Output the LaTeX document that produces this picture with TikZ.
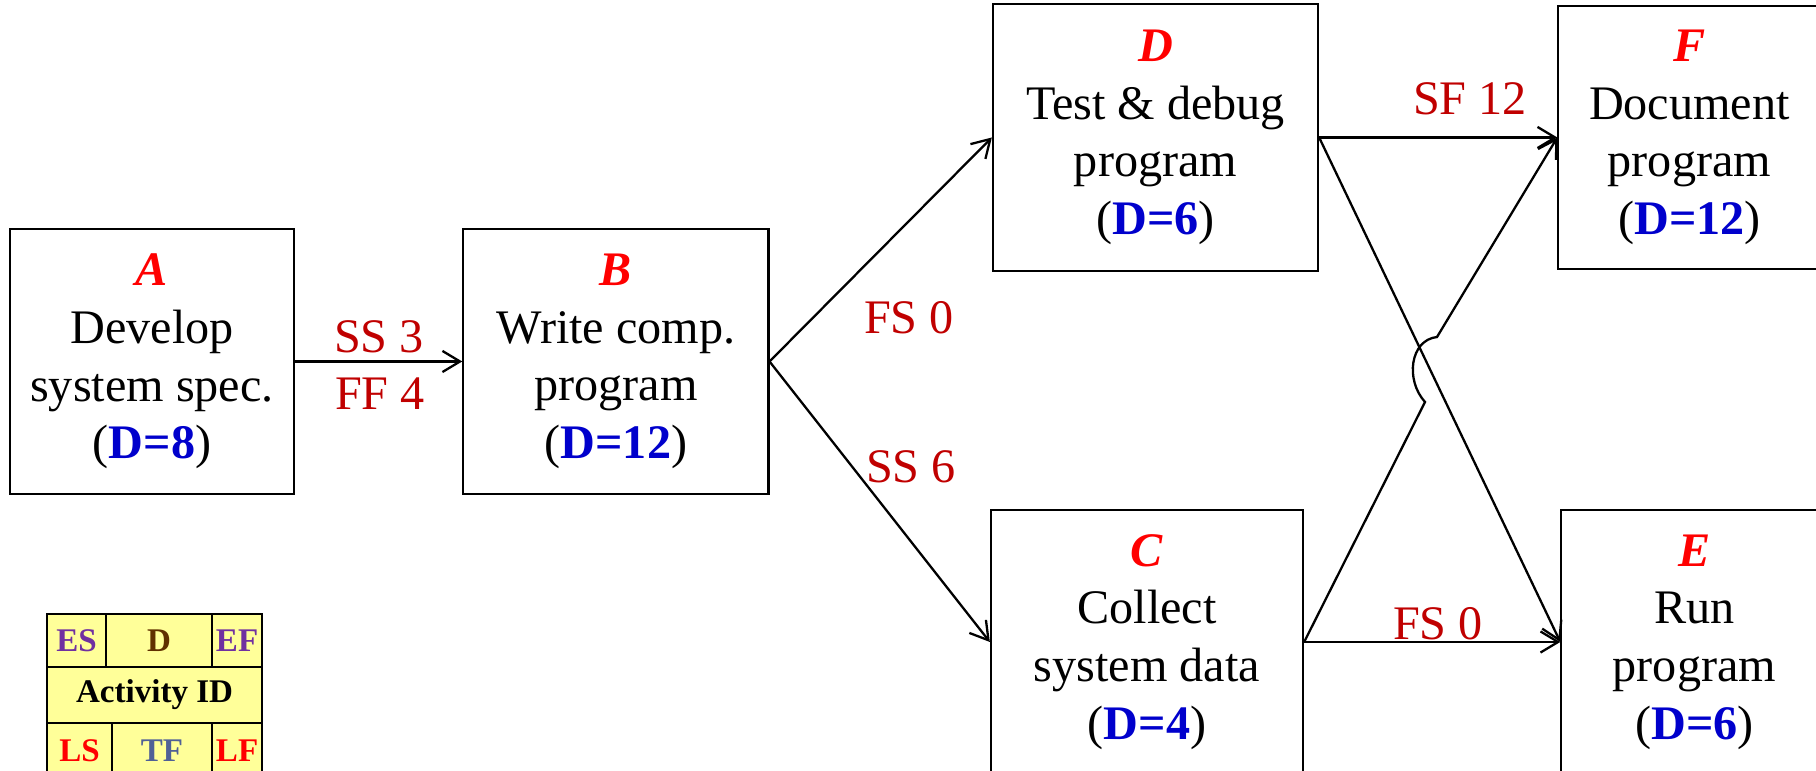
\documentclass[tikz,border=0pt]{standalone}
\usepackage{fontspec}
\setmainfont{Liberation Serif}
\usetikzlibrary{arrows.meta, positioning}
\definecolor{idred}{RGB}{255,0,0}
\definecolor{durblue}{RGB}{0,0,204}
\definecolor{lagred}{RGB}{192,0,0}
\definecolor{legyellow}{RGB}{255,255,153}
\definecolor{espurple}{RGB}{112,48,160}
\definecolor{dbrown}{RGB}{96,48,0}
\definecolor{tfblue}{RGB}{80,96,150}
\tikzstyle{arrow} = [
    line width=0.65pt,
    -{Straight Barb[length=5pt,width=6pt]}
]
\newcommand{\actid}[1]{{\color{idred}\bfseries\itshape #1}}
\newcommand{\dur}[1]{({\color{durblue}\bfseries D=#1})}

\begin{document}
\begin{tikzpicture}[
    x=0.01cm, y=-0.01cm,
    box/.style={
        rectangle,
        draw,
        line width=0.6pt,
        align=center,
        inner sep=0pt,
        minimum height=2.64cm,
        font=\fontsize{13.7}{16.4}\selectfont
    },
    lag/.style={
        text=lagred,
        inner sep=0pt,
        font=\fontsize{13.7}{16.4}\selectfont
    },
    cell/.style={
        rectangle,
        draw,
        line width=0.6pt,
        fill=legyellow,
        inner sep=0pt,
        outer sep=0pt,
        font=\fontsize{9.4}{11}\selectfont\bfseries
    }
]
\clip (0,0) rectangle (1816,771);

% Activities
\node[box, minimum width=2.84cm, minimum height=2.65cm] (A) at (152,361.5)
    {\actid{A}\\Develop\\system spec.\\\dur{8}};
\node[box, minimum width=3.05cm, right=1.67cm of A] (B)
    {\actid{B}\\Write comp.\\program\\\dur{12}};
\node[box, minimum width=3.25cm, minimum height=2.67cm] (D) at (1155.5,137.5)
    {\actid{D}\\Test \& debug\\program\\\dur{6}};
\node[box, minimum width=3.12cm] (C) at (1147,642)
    {\actid{C}\\Collect\\system data\\\dur{4}};
\node[box, minimum width=2.62cm, minimum height=2.62cm, right=2.38cm of D] (F)
    {\actid{F}\\Document\\program\\\dur{12}};
\node[box, minimum width=2.66cm, right=2.56cm of C] (E)
    {\actid{E}\\Run\\program\\\dur{6}};

% Lags
\node[lag] (ss3) at (379,337) {SS 3};
\node[lag] (ff4) at (380,394) {FF 4};
\node[lag] (fs0a) at (909,318) {FS 0};
\node[lag] (ss6) at (911,467) {SS 6};
\node[lag] (sf12) at (1470,99) {SF 12};
\node[lag] (fs0b) at (1438,624) {FS 0};

% Links
\coordinate (hopin) at (1425,402);
\coordinate (hopout) at (1437,337);
\draw[arrow] (A) -- (B);
\draw[arrow] (B.east) -- (D.west);
\draw[arrow] (B.east) -- (C.west);
\draw[arrow] (D.east) -- (F.west);
\draw[arrow] (D.east) -- (E.west);
\draw[arrow] (C.east) -- (E.west);
\draw[arrow] (C.east) -- (hopin) .. controls (1405,380) and (1410,340) .. (hopout) -- (F.west);

% Legend
\node[cell, minimum width=0.59cm, minimum height=0.53cm, anchor=north west, text=espurple] (es) at (47,614) {ES};
\node[cell, minimum width=1.06cm, minimum height=0.53cm, right=0pt of es, text=dbrown] (dd) {D};
\node[cell, minimum width=0.50cm, minimum height=0.53cm, right=0pt of dd, text=espurple] (ef) {EF};
\node[cell, minimum width=2.15cm, minimum height=0.56cm, anchor=north west] (actid) at (es.south west) {Activity ID};
\node[cell, minimum width=0.65cm, minimum height=0.56cm, anchor=north west, text=idred] (ls) at (actid.south west) {LS};
\node[cell, minimum width=1.00cm, minimum height=0.56cm, right=0pt of ls, text=tfblue] (tf) {TF};
\node[cell, minimum width=0.50cm, minimum height=0.56cm, right=0pt of tf, text=idred] (lf) {LF};

\end{tikzpicture}
\end{document}
